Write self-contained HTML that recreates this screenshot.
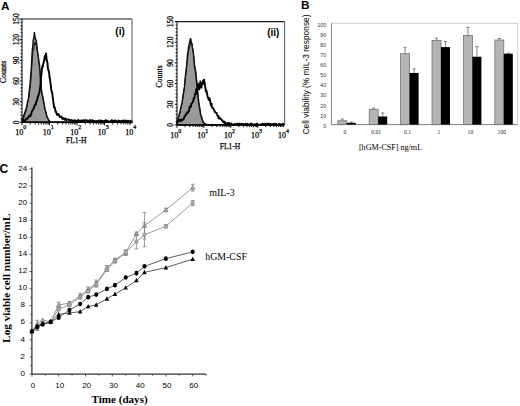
<!DOCTYPE html>
<html><head><meta charset="utf-8"><style>
html,body{margin:0;padding:0;background:#fff;}
body{width:520px;height:406px;overflow:hidden;}
svg{display:block;}
.sr{font-family:"Liberation Serif",serif;}
.hv{stroke:#000;stroke-width:0.25px;}
.ss{font-family:"Liberation Sans",sans-serif;}
.sb{font-family:"Liberation Sans",sans-serif;font-weight:bold;}
.sbf{font-family:"Liberation Serif",serif;font-weight:bold;}
</style></head><body>
<svg width="520" height="406" viewBox="0 0 520 406">
<polygon points="22,122.3 22.00,120.40 22.50,118.80 23.00,117.00 23.30,116.40 23.50,115.86 24.00,114.51 24.50,113.56 25.00,112.00 25.50,110.60 25.90,109.40 26.00,109.67 26.50,107.25 27.00,105.29 27.50,102.18 28.00,100.09 28.50,98.80 29.00,93.00 29.50,88.61 30.00,84.81 30.50,77.96 30.80,74.09 31.00,72.21 31.30,67.21 31.50,64.79 31.80,57.70 32.00,54.58 32.40,48.61 32.50,49.02 33.00,42.98 33.10,40.69 33.50,39.04 34.00,36.61 34.40,32.08 34.50,32.99 35.00,36.86 35.40,39.66 35.50,38.47 36.00,40.28 36.30,40.69 36.50,42.44 37.00,48.61 37.50,51.61 38.00,54.08 38.30,56.39 38.50,58.13 39.00,62.64 39.50,64.63 39.60,66.79 40.00,71.99 40.30,78.02 40.50,82.04 40.60,84.70 41.00,88.05 41.50,91.41 41.60,91.95 42.00,94.31 42.50,95.70 42.90,98.27 43.00,98.18 43.50,101.58 44.00,103.63 44.50,106.56 44.80,109.12 45.00,109.67 45.50,110.94 46.00,113.29 46.50,114.84 46.80,116.45 47.00,117.08 47.50,117.69 48.00,118.60 48.50,119.91 48.80,120.61 49.00,120.79 49.50,121.25 50.00,122.17 50.50,122.30 51.00,122.30 51.50,122.30 52.00,122.30 52.50,122.15 53.00,122.30 53.50,122.27 54.00,122.30 54.50,122.30 55.00,122.19 55.50,122.30 56.00,122.23 56.50,122.30 57.00,122.30 57.50,122.30 58.00,122.30 58.50,122.07 59.00,122.15 59.50,122.30 60.00,122.11 60.50,122.30 61.00,122.30 61.50,122.12 62.00,122.23 62.50,122.30 63.00,122.06 63.50,122.30 64.00,122.30 64.50,122.16 65.00,122.30 65.50,122.30 66.00,122.30 66.50,122.30 67.00,122.26 67.50,122.30 68.00,122.25 68.50,122.30 69.00,122.30 69.50,122.07 70.00,122.30 70.50,122.26 71.00,122.12 71.50,122.30 72.00,122.30 72.50,122.10 73.00,122.14 73.50,122.30 74.00,122.30 74.50,122.18 75.00,122.08 75.50,122.30 76.00,122.08 76.50,122.11 77.00,122.25 77.50,122.30 78.00,122.30 78.50,122.30 79.00,122.07 79.50,122.30 80.00,122.20 80.50,122.30 81.00,122.14 81.50,122.25 82.00,122.30 82.50,122.30 83.00,122.19 83.50,122.30 84.00,122.30 84.50,122.27 85.00,122.13 85.50,122.24 86.00,122.30 86.50,122.09 87.00,122.30 87.50,122.30 88.00,122.30 88.50,122.30 89.00,122.30 89.50,122.30 90.00,122.30 90.50,122.26 91.00,122.30 91.50,122.30 92.00,122.11 92.50,122.06 93.00,122.22 93.50,122.21 94.00,122.26 94.50,122.30 95.00,122.30 95.50,122.30 96.00,122.10 96.50,122.20 97.00,122.07 97.50,122.30 98.00,122.23 98.50,122.30 99.00,122.19 99.50,122.30 100.00,122.05 100.50,122.30 101.00,122.28 101.50,122.18 102.00,122.10 102.50,122.18 103.00,122.20 103.50,122.15 104.00,122.09 104.50,122.30 105.00,122.21 105.50,122.10 106.00,122.12 106.50,122.30 107.00,122.16 107.50,122.12 108.00,122.26 108.50,122.24 109.00,122.30 109.50,122.26 110.00,122.25 110.50,122.30 111.00,122.23 111.50,122.06 112.00,122.11 112.50,122.19 113.00,122.30 113.50,122.18 114.00,122.26 114.50,122.30 115.00,122.13 115.50,122.30 116.00,122.18 116.50,122.30 117.00,122.25 117.50,122.30 118.00,122.30 118.50,122.20 119.00,122.30 119.50,122.24 120.00,122.09 120.50,122.30 121.00,122.30 121.50,122.30 122.00,122.21 122.50,122.30 123.00,122.30 123.50,122.10 124.00,122.22 124.50,122.30 125.00,122.11 125.50,122.30 126.00,122.22 126.50,122.30 127.00,122.30 127.50,122.15 128.00,122.09 128.50,122.11 129.00,122.30 129.50,122.26 130.00,122.30 130.50,122.30 131.00,122.30 131.50,122.13 132.00,122.13 132,122.3" fill="#999" stroke="#111" stroke-width="1.4"/>
<polyline points="22.00,121.62 22.50,120.32 23.00,119.10 23.50,118.23 24.00,117.14 24.50,115.24 25.00,113.68 25.50,111.55 26.00,109.99 26.50,108.42 27.00,105.98 27.50,103.37 28.00,101.57 28.50,98.70 29.00,96.65 29.50,91.23 30.00,88.54 30.50,82.85 30.80,81.89 31.00,77.69 31.50,71.35 32.00,63.76 32.50,58.32 33.00,51.16 33.20,49.99 33.50,50.23 34.00,47.76 34.50,42.33 34.80,42.41 35.00,42.71 35.50,45.04 36.00,42.60 36.50,45.17 37.00,46.84 37.50,52.88 38.00,54.81 38.50,58.87 39.00,63.52 39.50,66.80 39.80,68.58 40.00,70.11 40.50,75.81 41.00,79.60 41.50,86.72 41.80,92.36 42.00,93.15 42.50,94.61 43.00,97.77 43.10,98.25 43.50,100.20 44.00,103.12 44.50,105.97 45.00,109.09 45.50,110.32 46.00,112.07 46.50,114.05 47.00,116.26 47.50,117.48 48.00,118.46 48.50,119.26 49.00,120.27 49.50,121.07 50.00,121.48 50.50,121.89 51.00,122.29 51.50,122.15 52.00,122.30 52.50,122.30 53.00,122.14 53.50,122.30 54.00,122.29 54.50,122.30 55.00,122.30 55.50,122.30 56.00,122.17 56.50,122.30 57.00,122.28 57.50,122.30 58.00,122.20 58.50,122.30 59.00,122.30 59.50,122.30 60.00,122.23 60.50,122.30 61.00,122.30 61.50,122.30 62.00,122.30 62.50,122.30 63.00,122.07 63.50,122.30 64.00,122.07 64.50,122.30 65.00,122.09 65.50,122.30 66.00,122.30 66.50,122.18 67.00,122.10 67.50,122.30 68.00,122.30 68.50,122.17 69.00,122.30 69.50,122.30 70.00,122.30 70.50,122.30 71.00,122.24 71.50,122.06 72.00,122.05 72.50,122.30 73.00,122.30 73.50,122.30 74.00,122.16 74.50,122.14 75.00,122.23 75.50,122.30 76.00,122.29 76.50,122.30 77.00,122.24 77.50,122.30 78.00,122.08 78.50,122.10 79.00,122.30 79.50,122.30 80.00,122.11 80.50,122.30 81.00,122.08 81.50,122.29 82.00,122.20 82.50,122.20 83.00,122.30 83.50,122.30 84.00,122.30 84.50,122.21 85.00,122.20 85.50,122.30 86.00,122.11 86.50,122.30 87.00,122.30 87.50,122.30 88.00,122.06 88.50,122.27 89.00,122.24 89.50,122.09 90.00,122.07 90.50,122.17 91.00,122.30 91.50,122.26 92.00,122.10 92.50,122.16 93.00,122.26 93.50,122.30 94.00,122.30 94.50,122.18 95.00,122.27 95.50,122.30 96.00,122.20 96.50,122.10 97.00,122.15 97.50,122.10 98.00,122.10 98.50,122.28 99.00,122.16 99.50,122.30 100.00,122.30 100.50,122.30 101.00,122.30 101.50,122.08 102.00,122.21 102.50,122.28 103.00,122.24 103.50,122.30 104.00,122.28 104.50,122.20 105.00,122.30 105.50,122.30 106.00,122.30 106.50,122.30 107.00,122.21 107.50,122.30 108.00,122.30 108.50,122.30 109.00,122.20 109.50,122.17 110.00,122.22 110.50,122.08 111.00,122.30 111.50,122.30 112.00,122.30 112.50,122.30 113.00,122.30 113.50,122.22 114.00,122.30 114.50,122.30 115.00,122.30 115.50,122.08 116.00,122.30 116.50,122.30 117.00,122.30 117.50,122.30 118.00,122.30 118.50,122.30 119.00,122.09 119.50,122.30 120.00,122.20 120.50,122.30 121.00,122.30 121.50,122.25 122.00,122.13 122.50,122.30 123.00,122.30 123.50,122.12 124.00,122.14 124.50,122.30 125.00,122.28 125.50,122.17 126.00,122.30 126.50,122.21 127.00,122.22 127.50,122.07 128.00,122.27 128.50,122.21 129.00,122.30 129.50,122.18 130.00,122.30 130.50,122.30 131.00,122.30 131.50,122.30 132.00,122.30" fill="none" stroke="#111" stroke-width="1.0"/>
<polyline points="22.00,121.98 22.60,120.93 23.20,120.53 23.80,119.86 23.90,120.90 24.40,120.53 25.00,120.33 25.60,119.84 26.20,118.56 26.80,119.33 27.00,118.45 27.40,118.67 28.00,117.94 28.60,117.08 29.20,115.63 29.80,115.52 30.40,116.27 30.50,115.58 31.00,114.98 31.60,112.07 32.20,111.07 32.80,109.92 33.40,108.69 34.00,107.78 34.60,105.53 35.20,104.44 35.80,104.77 36.40,101.04 37.00,100.87 37.60,97.46 38.20,95.96 38.80,94.31 39.40,92.37 39.50,91.67 40.00,88.23 40.60,84.61 40.90,79.81 41.20,74.92 41.60,73.40 41.80,70.22 42.40,65.63 42.90,66.79 43.00,64.77 43.60,62.86 44.20,60.32 44.80,56.01 45.40,59.49 45.90,54.40 46.00,53.40 46.60,58.94 47.20,62.09 47.50,62.94 47.80,67.36 48.40,70.58 48.80,70.65 49.00,71.86 49.60,77.84 49.80,77.54 50.20,81.16 50.70,84.50 50.80,86.23 51.40,90.73 52.00,91.92 52.60,96.22 52.70,96.72 53.20,100.79 53.80,104.84 54.00,107.41 54.40,106.87 55.00,108.08 55.60,111.79 55.90,111.95 56.20,111.72 56.80,114.56 57.40,114.89 58.00,113.91 58.60,114.46 59.20,115.52 59.80,117.06 60.40,117.01 61.00,116.59 61.60,117.07 62.00,117.58 62.20,118.81 62.80,117.77 63.40,118.88 64.00,118.46 64.60,119.73 65.20,118.42 65.80,119.29 66.00,119.15 66.40,120.10 67.00,119.45 67.60,119.59 68.20,119.64 68.80,120.11 69.40,119.54 70.00,120.28 70.60,120.42 71.20,120.71 71.80,119.90 72.40,120.93 73.00,120.81 73.60,121.14 74.20,120.25 74.80,120.46 75.00,120.51 75.40,121.34 76.00,120.69 76.60,120.86 77.20,121.27 77.80,121.43 78.40,119.80 79.00,121.25 79.60,120.96 80.20,121.02 80.80,120.49 81.40,121.35 82.00,120.71 82.60,120.89 83.20,120.13 83.80,121.49 84.40,120.96 85.00,120.70 85.60,119.94 86.20,120.69 86.80,120.76 87.40,120.45 88.00,121.07 88.60,121.50 89.20,120.75 89.80,120.09 90.40,120.38 91.00,121.16 91.60,120.48 92.20,120.22 92.80,121.19 93.40,120.66 94.00,121.04 94.60,121.23 95.20,121.17 95.80,121.31 96.40,121.08 97.00,121.59 97.60,121.02 98.20,121.53 98.80,120.45 99.40,120.71 100.00,121.68 100.60,120.45 101.20,121.39 101.80,120.93 102.40,120.82 103.00,121.19 103.60,121.26 104.20,121.04 104.80,121.52 105.40,120.36 106.00,121.58 106.60,120.44 107.20,121.42 107.80,121.29 108.40,121.16 109.00,121.74 109.60,121.59 110.20,121.23 110.80,121.10 111.40,120.42 112.00,120.24 112.60,121.76 113.20,120.98 113.80,121.64 114.40,120.57 115.00,121.34 115.60,120.44 116.20,121.00 116.80,121.68 117.40,121.88 118.00,121.50 118.60,120.52 119.20,121.67 119.80,121.15 120.40,121.33 121.00,121.38 121.60,120.66 122.20,121.60 122.80,120.81 123.40,120.90 124.00,120.48 124.60,121.15 125.20,120.52 125.80,121.29 126.40,121.08 127.00,121.02 127.60,120.68 128.20,120.60 128.80,121.83 129.40,121.81 130.00,121.19 130.60,120.76 131.20,121.20 131.80,121.58 132.00,120.54" fill="none" stroke="#000" stroke-width="1.9" stroke-linejoin="round"/>
<path d="M22,122.3 V19 H132" fill="none" stroke="#1a1a1a" stroke-width="1.1"/>
<line x1="132" y1="19" x2="132" y2="122.3" stroke="#555" stroke-width="1.0"/>
<line x1="22" y1="122.3" x2="132" y2="122.3" stroke="#000" stroke-width="1.5"/>
<line x1="19.8" y1="122.30" x2="22" y2="122.30" stroke="#111" stroke-width="1.1"/>
<line x1="20.6" y1="118.86" x2="22" y2="118.86" stroke="#111" stroke-width="1.1"/>
<line x1="20.6" y1="115.41" x2="22" y2="115.41" stroke="#111" stroke-width="1.1"/>
<line x1="20.6" y1="111.97" x2="22" y2="111.97" stroke="#111" stroke-width="1.1"/>
<line x1="20.6" y1="108.53" x2="22" y2="108.53" stroke="#111" stroke-width="1.1"/>
<line x1="20.6" y1="105.08" x2="22" y2="105.08" stroke="#111" stroke-width="1.1"/>
<line x1="19.8" y1="101.64" x2="22" y2="101.64" stroke="#111" stroke-width="1.1"/>
<line x1="20.6" y1="98.20" x2="22" y2="98.20" stroke="#111" stroke-width="1.1"/>
<line x1="20.6" y1="94.75" x2="22" y2="94.75" stroke="#111" stroke-width="1.1"/>
<line x1="20.6" y1="91.31" x2="22" y2="91.31" stroke="#111" stroke-width="1.1"/>
<line x1="20.6" y1="87.87" x2="22" y2="87.87" stroke="#111" stroke-width="1.1"/>
<line x1="20.6" y1="84.42" x2="22" y2="84.42" stroke="#111" stroke-width="1.1"/>
<line x1="19.8" y1="80.98" x2="22" y2="80.98" stroke="#111" stroke-width="1.1"/>
<line x1="20.6" y1="77.54" x2="22" y2="77.54" stroke="#111" stroke-width="1.1"/>
<line x1="20.6" y1="74.09" x2="22" y2="74.09" stroke="#111" stroke-width="1.1"/>
<line x1="20.6" y1="70.65" x2="22" y2="70.65" stroke="#111" stroke-width="1.1"/>
<line x1="20.6" y1="67.21" x2="22" y2="67.21" stroke="#111" stroke-width="1.1"/>
<line x1="20.6" y1="63.76" x2="22" y2="63.76" stroke="#111" stroke-width="1.1"/>
<line x1="19.8" y1="60.32" x2="22" y2="60.32" stroke="#111" stroke-width="1.1"/>
<line x1="20.6" y1="56.88" x2="22" y2="56.88" stroke="#111" stroke-width="1.1"/>
<line x1="20.6" y1="53.43" x2="22" y2="53.43" stroke="#111" stroke-width="1.1"/>
<line x1="20.6" y1="49.99" x2="22" y2="49.99" stroke="#111" stroke-width="1.1"/>
<line x1="20.6" y1="46.55" x2="22" y2="46.55" stroke="#111" stroke-width="1.1"/>
<line x1="20.6" y1="43.10" x2="22" y2="43.10" stroke="#111" stroke-width="1.1"/>
<line x1="19.8" y1="39.66" x2="22" y2="39.66" stroke="#111" stroke-width="1.1"/>
<line x1="20.6" y1="36.22" x2="22" y2="36.22" stroke="#111" stroke-width="1.1"/>
<line x1="20.6" y1="32.77" x2="22" y2="32.77" stroke="#111" stroke-width="1.1"/>
<line x1="20.6" y1="29.33" x2="22" y2="29.33" stroke="#111" stroke-width="1.1"/>
<line x1="20.6" y1="25.89" x2="22" y2="25.89" stroke="#111" stroke-width="1.1"/>
<line x1="20.6" y1="22.44" x2="22" y2="22.44" stroke="#111" stroke-width="1.1"/>
<line x1="19.8" y1="19.00" x2="22" y2="19.00" stroke="#111" stroke-width="1.1"/>
<text transform="translate(18.7,122.30) rotate(-90)" text-anchor="middle" class="sr hv" font-size="7.6">0</text>
<text transform="translate(18.7,101.64) rotate(-90)" text-anchor="middle" class="sr hv" font-size="7.6">30</text>
<text transform="translate(18.7,80.98) rotate(-90)" text-anchor="middle" class="sr hv" font-size="7.6">60</text>
<text transform="translate(18.7,60.32) rotate(-90)" text-anchor="middle" class="sr hv" font-size="7.6">90</text>
<text transform="translate(18.7,39.66) rotate(-90)" text-anchor="middle" class="sr hv" font-size="7.6">120</text>
<text transform="translate(18.7,19.00) rotate(-90)" text-anchor="middle" class="sr hv" font-size="7.6">150</text>
<line x1="22.00" y1="122.3" x2="22.00" y2="125.3" stroke="#111" stroke-width="1.0"/>
<line x1="30.28" y1="122.3" x2="30.28" y2="124.5" stroke="#111" stroke-width="1.0"/>
<line x1="35.12" y1="122.3" x2="35.12" y2="124.5" stroke="#111" stroke-width="1.0"/>
<line x1="38.56" y1="122.3" x2="38.56" y2="124.5" stroke="#111" stroke-width="1.0"/>
<line x1="41.22" y1="122.3" x2="41.22" y2="124.5" stroke="#111" stroke-width="1.0"/>
<line x1="43.40" y1="122.3" x2="43.40" y2="124.5" stroke="#111" stroke-width="1.0"/>
<line x1="45.24" y1="122.3" x2="45.24" y2="124.5" stroke="#111" stroke-width="1.0"/>
<line x1="46.83" y1="122.3" x2="46.83" y2="124.5" stroke="#111" stroke-width="1.0"/>
<line x1="48.24" y1="122.3" x2="48.24" y2="124.5" stroke="#111" stroke-width="1.0"/>
<line x1="49.50" y1="122.3" x2="49.50" y2="125.3" stroke="#111" stroke-width="1.0"/>
<line x1="57.78" y1="122.3" x2="57.78" y2="124.5" stroke="#111" stroke-width="1.0"/>
<line x1="62.62" y1="122.3" x2="62.62" y2="124.5" stroke="#111" stroke-width="1.0"/>
<line x1="66.06" y1="122.3" x2="66.06" y2="124.5" stroke="#111" stroke-width="1.0"/>
<line x1="68.72" y1="122.3" x2="68.72" y2="124.5" stroke="#111" stroke-width="1.0"/>
<line x1="70.90" y1="122.3" x2="70.90" y2="124.5" stroke="#111" stroke-width="1.0"/>
<line x1="72.74" y1="122.3" x2="72.74" y2="124.5" stroke="#111" stroke-width="1.0"/>
<line x1="74.33" y1="122.3" x2="74.33" y2="124.5" stroke="#111" stroke-width="1.0"/>
<line x1="75.74" y1="122.3" x2="75.74" y2="124.5" stroke="#111" stroke-width="1.0"/>
<line x1="77.00" y1="122.3" x2="77.00" y2="125.3" stroke="#111" stroke-width="1.0"/>
<line x1="85.28" y1="122.3" x2="85.28" y2="124.5" stroke="#111" stroke-width="1.0"/>
<line x1="90.12" y1="122.3" x2="90.12" y2="124.5" stroke="#111" stroke-width="1.0"/>
<line x1="93.56" y1="122.3" x2="93.56" y2="124.5" stroke="#111" stroke-width="1.0"/>
<line x1="96.22" y1="122.3" x2="96.22" y2="124.5" stroke="#111" stroke-width="1.0"/>
<line x1="98.40" y1="122.3" x2="98.40" y2="124.5" stroke="#111" stroke-width="1.0"/>
<line x1="100.24" y1="122.3" x2="100.24" y2="124.5" stroke="#111" stroke-width="1.0"/>
<line x1="101.83" y1="122.3" x2="101.83" y2="124.5" stroke="#111" stroke-width="1.0"/>
<line x1="103.24" y1="122.3" x2="103.24" y2="124.5" stroke="#111" stroke-width="1.0"/>
<line x1="104.50" y1="122.3" x2="104.50" y2="125.3" stroke="#111" stroke-width="1.0"/>
<line x1="112.78" y1="122.3" x2="112.78" y2="124.5" stroke="#111" stroke-width="1.0"/>
<line x1="117.62" y1="122.3" x2="117.62" y2="124.5" stroke="#111" stroke-width="1.0"/>
<line x1="121.06" y1="122.3" x2="121.06" y2="124.5" stroke="#111" stroke-width="1.0"/>
<line x1="123.72" y1="122.3" x2="123.72" y2="124.5" stroke="#111" stroke-width="1.0"/>
<line x1="125.90" y1="122.3" x2="125.90" y2="124.5" stroke="#111" stroke-width="1.0"/>
<line x1="127.74" y1="122.3" x2="127.74" y2="124.5" stroke="#111" stroke-width="1.0"/>
<line x1="129.33" y1="122.3" x2="129.33" y2="124.5" stroke="#111" stroke-width="1.0"/>
<line x1="130.74" y1="122.3" x2="130.74" y2="124.5" stroke="#111" stroke-width="1.0"/>
<text x="19.30" y="134.9" text-anchor="middle" class="sr hv" font-size="8">10</text>
<text x="23.30" y="129.3" text-anchor="start" class="sr hv" font-size="6">0</text>
<text x="46.80" y="134.9" text-anchor="middle" class="sr hv" font-size="8">10</text>
<text x="50.80" y="129.3" text-anchor="start" class="sr hv" font-size="6">1</text>
<text x="74.30" y="134.9" text-anchor="middle" class="sr hv" font-size="8">10</text>
<text x="78.30" y="129.3" text-anchor="start" class="sr hv" font-size="6">2</text>
<text x="101.80" y="134.9" text-anchor="middle" class="sr hv" font-size="8">10</text>
<text x="105.80" y="129.3" text-anchor="start" class="sr hv" font-size="6">3</text>
<text x="129.30" y="134.9" text-anchor="middle" class="sr hv" font-size="8">10</text>
<text x="133.30" y="129.3" text-anchor="start" class="sr hv" font-size="6">4</text>
<text x="76.20" y="142.9" text-anchor="middle" class="sr hv" font-size="8" textLength="20.5" lengthAdjust="spacingAndGlyphs">FL1-H</text>
<text transform="translate(6.4,71.95) rotate(-90)" text-anchor="middle" class="sr hv" font-size="8">Counts</text>
<text x="124.8" y="34.5" text-anchor="end" class="sb" font-size="10">(i)</text>
<polygon points="177,124.9 177.00,121.89 177.50,119.77 177.60,119.39 178.00,118.69 178.50,116.68 179.00,115.20 179.50,113.49 179.60,113.55 180.00,111.69 180.50,109.15 181.00,107.15 181.50,104.60 182.00,102.92 182.20,101.94 182.50,99.07 183.00,96.24 183.50,92.82 184.00,89.12 184.20,88.54 184.50,86.16 185.00,79.56 185.50,75.18 186.00,70.81 186.50,66.47 186.80,64.44 187.00,61.49 187.50,53.85 187.60,54.11 188.00,51.98 188.50,47.34 189.00,45.01 189.50,43.22 190.00,40.14 190.50,38.13 191.00,40.09 191.30,42.26 191.50,43.36 192.00,43.64 192.50,48.62 193.00,50.71 193.50,54.11 194.00,60.82 194.20,64.44 194.50,66.07 195.00,69.63 195.50,72.28 195.90,75.18 196.00,76.96 196.50,81.94 197.00,86.61 197.20,87.64 197.50,91.84 198.00,96.95 198.50,101.92 199.00,105.24 199.50,108.19 200.00,111.14 200.50,114.21 201.00,116.17 201.50,117.65 202.00,119.22 202.50,120.72 203.00,121.95 203.10,122.39 203.50,122.86 204.00,123.31 204.50,123.29 205.00,123.71 205.50,124.02 206.00,124.69 206.50,124.62 207.00,124.52 207.50,124.77 208.00,124.68 208.50,124.90 209.00,124.66 209.50,124.90 210.00,124.90 210.50,124.90 211.00,124.75 211.50,124.81 212.00,124.67 212.50,124.75 213.00,124.68 213.50,124.88 214.00,124.66 214.50,124.78 215.00,124.90 215.50,124.66 216.00,124.90 216.50,124.90 217.00,124.90 217.50,124.90 218.00,124.90 218.50,124.69 219.00,124.68 219.50,124.90 220.00,124.90 220.50,124.89 221.00,124.90 221.50,124.88 222.00,124.74 222.50,124.90 223.00,124.90 223.50,124.70 224.00,124.90 224.50,124.90 225.00,124.71 225.50,124.74 226.00,124.70 226.50,124.81 227.00,124.90 227.50,124.80 228.00,124.74 228.50,124.83 229.00,124.90 229.50,124.90 230.00,124.90 230.50,124.77 231.00,124.87 231.50,124.88 232.00,124.74 232.50,124.90 233.00,124.83 233.50,124.90 234.00,124.87 234.50,124.73 235.00,124.90 235.50,124.68 236.00,124.90 236.50,124.87 237.00,124.88 237.50,124.90 238.00,124.87 238.50,124.90 239.00,124.90 239.50,124.79 240.00,124.90 240.50,124.90 241.00,124.76 241.50,124.90 242.00,124.72 242.50,124.90 243.00,124.81 243.50,124.90 244.00,124.90 244.50,124.90 245.00,124.90 245.50,124.80 246.00,124.90 246.50,124.81 247.00,124.88 247.50,124.87 248.00,124.89 248.50,124.90 249.00,124.70 249.50,124.90 250.00,124.71 250.50,124.72 251.00,124.90 251.50,124.76 252.00,124.81 252.50,124.85 253.00,124.90 253.50,124.90 254.00,124.90 254.50,124.90 255.00,124.67 255.50,124.90 256.00,124.90 256.50,124.90 257.00,124.74 257.50,124.90 258.00,124.87 258.50,124.90 259.00,124.90 259.50,124.90 260.00,124.90 260.50,124.90 261.00,124.73 261.50,124.90 262.00,124.90 262.50,124.90 263.00,124.90 263.50,124.87 264.00,124.90 264.50,124.72 265.00,124.90 265.50,124.73 266.00,124.90 266.50,124.66 267.00,124.83 267.50,124.90 268.00,124.75 268.50,124.90 269.00,124.90 269.50,124.90 270.00,124.73 270.50,124.90 271.00,124.78 271.50,124.90 272.00,124.81 272.50,124.90 273.00,124.90 273.50,124.69 274.00,124.82 274.50,124.90 275.00,124.66 275.50,124.70 276.00,124.90 276.50,124.90 277.00,124.84 277.50,124.90 278.00,124.79 278.50,124.90 279.00,124.80 279.50,124.87 280.00,124.77 280.50,124.74 281.00,124.85 281.50,124.85 282.00,124.90 282.50,124.90 283.00,124.90 283.50,124.72 284.00,124.90 284.50,124.90 284.6,124.9" fill="#999" stroke="#111" stroke-width="1.4"/>
<polyline points="177.00,122.71 177.50,120.89 178.00,119.62 178.50,117.28 179.00,116.21 179.50,114.07 180.00,112.91 180.50,109.84 181.00,108.15 181.50,105.09 182.00,102.66 182.50,100.19 182.60,100.20 183.00,96.77 183.50,93.06 184.00,91.19 184.50,86.99 184.60,85.40 185.00,81.87 185.50,77.61 186.00,72.56 186.50,68.43 187.00,61.87 187.40,59.48 187.50,60.13 188.00,54.72 188.50,51.16 189.00,50.28 189.20,47.77 189.50,47.36 190.00,45.73 190.50,43.13 190.80,42.26 191.00,43.28 191.50,42.60 192.00,43.80 192.40,46.39 192.50,47.74 193.00,49.15 193.50,55.40 193.80,56.03 194.00,59.24 194.50,62.29 194.80,65.67 195.00,66.12 195.50,69.32 196.00,72.13 196.30,75.32 196.50,76.47 197.00,82.87 197.50,86.91 197.60,87.57 198.00,93.16 198.50,97.47 198.90,101.98 199.00,102.64 199.50,105.44 200.00,108.49 200.50,111.47 200.90,114.91 201.00,114.87 201.50,115.97 202.00,117.69 202.50,119.38 203.00,121.08 203.50,122.34 204.00,122.91 204.50,123.05 205.00,123.40 205.50,123.90 206.00,124.04 206.50,124.60 207.00,124.90 207.50,124.74 208.00,124.90 208.50,124.90 209.00,124.86 209.50,124.90 210.00,124.71 210.50,124.90 211.00,124.90 211.50,124.90 212.00,124.90 212.50,124.90 213.00,124.90 213.50,124.77 214.00,124.90 214.50,124.66 215.00,124.80 215.50,124.75 216.00,124.88 216.50,124.86 217.00,124.90 217.50,124.90 218.00,124.90 218.50,124.90 219.00,124.90 219.50,124.90 220.00,124.70 220.50,124.75 221.00,124.83 221.50,124.90 222.00,124.90 222.50,124.88 223.00,124.80 223.50,124.90 224.00,124.83 224.50,124.70 225.00,124.90 225.50,124.90 226.00,124.77 226.50,124.90 227.00,124.79 227.50,124.90 228.00,124.90 228.50,124.90 229.00,124.90 229.50,124.76 230.00,124.73 230.50,124.89 231.00,124.70 231.50,124.90 232.00,124.90 232.50,124.90 233.00,124.90 233.50,124.74 234.00,124.90 234.50,124.68 235.00,124.87 235.50,124.80 236.00,124.90 236.50,124.70 237.00,124.75 237.50,124.90 238.00,124.90 238.50,124.90 239.00,124.90 239.50,124.90 240.00,124.75 240.50,124.90 241.00,124.80 241.50,124.90 242.00,124.82 242.50,124.90 243.00,124.83 243.50,124.90 244.00,124.66 244.50,124.73 245.00,124.74 245.50,124.90 246.00,124.90 246.50,124.90 247.00,124.90 247.50,124.67 248.00,124.90 248.50,124.72 249.00,124.90 249.50,124.84 250.00,124.90 250.50,124.90 251.00,124.78 251.50,124.85 252.00,124.68 252.50,124.90 253.00,124.90 253.50,124.90 254.00,124.90 254.50,124.66 255.00,124.87 255.50,124.90 256.00,124.90 256.50,124.77 257.00,124.81 257.50,124.90 258.00,124.90 258.50,124.90 259.00,124.74 259.50,124.78 260.00,124.90 260.50,124.90 261.00,124.90 261.50,124.81 262.00,124.78 262.50,124.90 263.00,124.90 263.50,124.90 264.00,124.68 264.50,124.87 265.00,124.68 265.50,124.90 266.00,124.83 266.50,124.87 267.00,124.69 267.50,124.90 268.00,124.90 268.50,124.74 269.00,124.68 269.50,124.90 270.00,124.90 270.50,124.90 271.00,124.90 271.50,124.69 272.00,124.90 272.50,124.90 273.00,124.87 273.50,124.90 274.00,124.90 274.50,124.89 275.00,124.67 275.50,124.72 276.00,124.90 276.50,124.76 277.00,124.74 277.50,124.86 278.00,124.90 278.50,124.90 279.00,124.80 279.50,124.81 280.00,124.90 280.50,124.90 281.00,124.90 281.50,124.74 282.00,124.71 282.50,124.89 283.00,124.84 283.50,124.80 284.00,124.90 284.50,124.89" fill="none" stroke="#111" stroke-width="1.0"/>
<polyline points="177.00,123.72 177.60,120.31 178.20,120.29 178.80,121.33 179.40,119.89 180.00,120.18 180.60,121.19 181.20,119.20 181.80,120.44 182.40,120.17 182.80,119.82 183.00,119.19 183.60,119.32 184.20,117.18 184.80,115.93 185.40,115.82 186.00,114.20 186.60,113.75 187.20,112.29 187.80,113.25 188.10,112.30 188.40,111.27 189.00,111.04 189.60,106.76 190.20,106.47 190.80,107.03 191.40,103.81 192.00,103.07 192.60,102.42 193.20,100.98 193.80,98.04 194.40,98.30 195.00,94.31 195.60,92.92 195.90,94.15 196.20,89.20 196.80,91.85 197.40,89.24 197.90,83.81 198.00,87.63 198.60,87.84 199.20,88.51 199.30,89.45 199.80,85.34 200.30,81.51 200.40,81.77 201.00,83.63 201.50,87.66 201.60,82.74 202.20,84.37 202.80,84.27 203.10,80.48 203.40,81.48 204.00,79.63 204.40,82.20 204.60,82.53 205.20,86.99 205.70,89.69 205.80,91.35 206.40,90.53 207.00,93.31 207.60,96.57 208.20,98.02 208.80,99.97 209.00,97.90 209.40,98.07 210.00,100.20 210.60,103.93 211.20,105.68 211.60,103.66 211.80,106.21 212.40,108.13 213.00,107.92 213.60,108.98 214.20,110.45 214.80,111.44 215.40,112.58 216.00,112.73 216.40,113.31 216.60,113.08 217.20,114.90 217.80,116.31 218.40,115.98 218.50,118.23 219.00,117.19 219.60,118.50 220.20,118.19 220.80,118.96 221.40,119.73 222.00,120.11 222.60,121.32 223.20,122.17 223.80,121.29 224.40,122.63 225.00,123.34 225.20,122.31 225.60,122.77 226.20,123.84 226.80,123.18 227.40,123.90 228.00,122.90 228.60,123.99 229.20,123.07 229.80,123.73 230.40,124.70 231.00,124.33 231.10,123.50 231.60,123.90 232.20,124.74 232.80,124.41 233.40,124.56 234.00,124.83 234.60,124.07 235.20,123.91 235.80,124.64 236.40,124.13 237.00,123.66 237.60,123.61 238.20,124.71 238.80,124.86 239.40,123.58 240.00,124.48 240.60,124.73 241.20,123.76 241.80,124.58 242.40,123.90 243.00,123.94 243.60,124.55 244.20,124.30 244.80,124.57 245.40,123.79 246.00,124.59 246.60,124.61 247.20,123.72 247.80,124.61 248.40,124.37 249.00,124.26 249.60,124.90 250.20,124.61 250.80,123.92 251.40,123.57 252.00,124.54 252.60,124.34 253.20,124.90 253.80,124.34 254.40,124.53 255.00,124.32 255.60,124.64 256.20,124.62 256.80,123.72 257.40,123.93 258.00,124.56 258.60,124.90 259.20,124.90 259.80,124.90 260.40,124.90 261.00,124.25 261.60,124.34 262.20,124.90 262.80,123.82 263.40,124.13 264.00,124.08 264.60,123.80 265.20,124.68 265.80,123.80 266.40,123.70 267.00,123.80 267.60,124.90 268.20,123.90 268.80,123.70 269.40,124.90 270.00,123.89 270.60,123.97 271.20,124.90 271.80,124.14 272.40,124.07 273.00,124.09 273.60,124.90 274.20,123.77 274.80,124.90 275.40,124.90 276.00,123.82 276.60,124.52 277.20,124.90 277.80,124.66 278.40,124.32 279.00,124.86 279.60,123.90 280.20,124.26 280.80,124.69 281.40,124.73 282.00,124.90 282.60,123.81 283.20,124.83 283.80,123.90 284.40,124.49" fill="none" stroke="#000" stroke-width="1.9" stroke-linejoin="round"/>
<path d="M177,124.9 V21.6 H284.6" fill="none" stroke="#1a1a1a" stroke-width="1.1"/>
<line x1="284.6" y1="21.6" x2="284.6" y2="124.9" stroke="#555" stroke-width="1.0"/>
<line x1="177" y1="124.9" x2="284.6" y2="124.9" stroke="#000" stroke-width="1.5"/>
<line x1="174.8" y1="124.90" x2="177" y2="124.90" stroke="#111" stroke-width="1.1"/>
<line x1="175.6" y1="121.46" x2="177" y2="121.46" stroke="#111" stroke-width="1.1"/>
<line x1="175.6" y1="118.01" x2="177" y2="118.01" stroke="#111" stroke-width="1.1"/>
<line x1="175.6" y1="114.57" x2="177" y2="114.57" stroke="#111" stroke-width="1.1"/>
<line x1="175.6" y1="111.13" x2="177" y2="111.13" stroke="#111" stroke-width="1.1"/>
<line x1="175.6" y1="107.68" x2="177" y2="107.68" stroke="#111" stroke-width="1.1"/>
<line x1="174.8" y1="104.24" x2="177" y2="104.24" stroke="#111" stroke-width="1.1"/>
<line x1="175.6" y1="100.80" x2="177" y2="100.80" stroke="#111" stroke-width="1.1"/>
<line x1="175.6" y1="97.35" x2="177" y2="97.35" stroke="#111" stroke-width="1.1"/>
<line x1="175.6" y1="93.91" x2="177" y2="93.91" stroke="#111" stroke-width="1.1"/>
<line x1="175.6" y1="90.47" x2="177" y2="90.47" stroke="#111" stroke-width="1.1"/>
<line x1="175.6" y1="87.02" x2="177" y2="87.02" stroke="#111" stroke-width="1.1"/>
<line x1="174.8" y1="83.58" x2="177" y2="83.58" stroke="#111" stroke-width="1.1"/>
<line x1="175.6" y1="80.14" x2="177" y2="80.14" stroke="#111" stroke-width="1.1"/>
<line x1="175.6" y1="76.69" x2="177" y2="76.69" stroke="#111" stroke-width="1.1"/>
<line x1="175.6" y1="73.25" x2="177" y2="73.25" stroke="#111" stroke-width="1.1"/>
<line x1="175.6" y1="69.81" x2="177" y2="69.81" stroke="#111" stroke-width="1.1"/>
<line x1="175.6" y1="66.36" x2="177" y2="66.36" stroke="#111" stroke-width="1.1"/>
<line x1="174.8" y1="62.92" x2="177" y2="62.92" stroke="#111" stroke-width="1.1"/>
<line x1="175.6" y1="59.48" x2="177" y2="59.48" stroke="#111" stroke-width="1.1"/>
<line x1="175.6" y1="56.03" x2="177" y2="56.03" stroke="#111" stroke-width="1.1"/>
<line x1="175.6" y1="52.59" x2="177" y2="52.59" stroke="#111" stroke-width="1.1"/>
<line x1="175.6" y1="49.15" x2="177" y2="49.15" stroke="#111" stroke-width="1.1"/>
<line x1="175.6" y1="45.70" x2="177" y2="45.70" stroke="#111" stroke-width="1.1"/>
<line x1="174.8" y1="42.26" x2="177" y2="42.26" stroke="#111" stroke-width="1.1"/>
<line x1="175.6" y1="38.82" x2="177" y2="38.82" stroke="#111" stroke-width="1.1"/>
<line x1="175.6" y1="35.37" x2="177" y2="35.37" stroke="#111" stroke-width="1.1"/>
<line x1="175.6" y1="31.93" x2="177" y2="31.93" stroke="#111" stroke-width="1.1"/>
<line x1="175.6" y1="28.49" x2="177" y2="28.49" stroke="#111" stroke-width="1.1"/>
<line x1="175.6" y1="25.04" x2="177" y2="25.04" stroke="#111" stroke-width="1.1"/>
<line x1="174.8" y1="21.60" x2="177" y2="21.60" stroke="#111" stroke-width="1.1"/>
<text transform="translate(172.7,124.90) rotate(-90)" text-anchor="middle" class="sr hv" font-size="7.6">0</text>
<text transform="translate(172.7,104.24) rotate(-90)" text-anchor="middle" class="sr hv" font-size="7.6">30</text>
<text transform="translate(172.7,83.58) rotate(-90)" text-anchor="middle" class="sr hv" font-size="7.6">60</text>
<text transform="translate(172.7,62.92) rotate(-90)" text-anchor="middle" class="sr hv" font-size="7.6">90</text>
<text transform="translate(172.7,42.26) rotate(-90)" text-anchor="middle" class="sr hv" font-size="7.6">120</text>
<text transform="translate(172.7,21.60) rotate(-90)" text-anchor="middle" class="sr hv" font-size="7.6">150</text>
<line x1="177.00" y1="124.9" x2="177.00" y2="127.9" stroke="#111" stroke-width="1.0"/>
<line x1="185.10" y1="124.9" x2="185.10" y2="127.10000000000001" stroke="#111" stroke-width="1.0"/>
<line x1="189.83" y1="124.9" x2="189.83" y2="127.10000000000001" stroke="#111" stroke-width="1.0"/>
<line x1="193.20" y1="124.9" x2="193.20" y2="127.10000000000001" stroke="#111" stroke-width="1.0"/>
<line x1="195.80" y1="124.9" x2="195.80" y2="127.10000000000001" stroke="#111" stroke-width="1.0"/>
<line x1="197.93" y1="124.9" x2="197.93" y2="127.10000000000001" stroke="#111" stroke-width="1.0"/>
<line x1="199.73" y1="124.9" x2="199.73" y2="127.10000000000001" stroke="#111" stroke-width="1.0"/>
<line x1="201.29" y1="124.9" x2="201.29" y2="127.10000000000001" stroke="#111" stroke-width="1.0"/>
<line x1="202.67" y1="124.9" x2="202.67" y2="127.10000000000001" stroke="#111" stroke-width="1.0"/>
<line x1="203.90" y1="124.9" x2="203.90" y2="127.9" stroke="#111" stroke-width="1.0"/>
<line x1="212.00" y1="124.9" x2="212.00" y2="127.10000000000001" stroke="#111" stroke-width="1.0"/>
<line x1="216.73" y1="124.9" x2="216.73" y2="127.10000000000001" stroke="#111" stroke-width="1.0"/>
<line x1="220.10" y1="124.9" x2="220.10" y2="127.10000000000001" stroke="#111" stroke-width="1.0"/>
<line x1="222.70" y1="124.9" x2="222.70" y2="127.10000000000001" stroke="#111" stroke-width="1.0"/>
<line x1="224.83" y1="124.9" x2="224.83" y2="127.10000000000001" stroke="#111" stroke-width="1.0"/>
<line x1="226.63" y1="124.9" x2="226.63" y2="127.10000000000001" stroke="#111" stroke-width="1.0"/>
<line x1="228.19" y1="124.9" x2="228.19" y2="127.10000000000001" stroke="#111" stroke-width="1.0"/>
<line x1="229.57" y1="124.9" x2="229.57" y2="127.10000000000001" stroke="#111" stroke-width="1.0"/>
<line x1="230.80" y1="124.9" x2="230.80" y2="127.9" stroke="#111" stroke-width="1.0"/>
<line x1="238.90" y1="124.9" x2="238.90" y2="127.10000000000001" stroke="#111" stroke-width="1.0"/>
<line x1="243.63" y1="124.9" x2="243.63" y2="127.10000000000001" stroke="#111" stroke-width="1.0"/>
<line x1="247.00" y1="124.9" x2="247.00" y2="127.10000000000001" stroke="#111" stroke-width="1.0"/>
<line x1="249.60" y1="124.9" x2="249.60" y2="127.10000000000001" stroke="#111" stroke-width="1.0"/>
<line x1="251.73" y1="124.9" x2="251.73" y2="127.10000000000001" stroke="#111" stroke-width="1.0"/>
<line x1="253.53" y1="124.9" x2="253.53" y2="127.10000000000001" stroke="#111" stroke-width="1.0"/>
<line x1="255.09" y1="124.9" x2="255.09" y2="127.10000000000001" stroke="#111" stroke-width="1.0"/>
<line x1="256.47" y1="124.9" x2="256.47" y2="127.10000000000001" stroke="#111" stroke-width="1.0"/>
<line x1="257.70" y1="124.9" x2="257.70" y2="127.9" stroke="#111" stroke-width="1.0"/>
<line x1="265.80" y1="124.9" x2="265.80" y2="127.10000000000001" stroke="#111" stroke-width="1.0"/>
<line x1="270.53" y1="124.9" x2="270.53" y2="127.10000000000001" stroke="#111" stroke-width="1.0"/>
<line x1="273.90" y1="124.9" x2="273.90" y2="127.10000000000001" stroke="#111" stroke-width="1.0"/>
<line x1="276.50" y1="124.9" x2="276.50" y2="127.10000000000001" stroke="#111" stroke-width="1.0"/>
<line x1="278.63" y1="124.9" x2="278.63" y2="127.10000000000001" stroke="#111" stroke-width="1.0"/>
<line x1="280.43" y1="124.9" x2="280.43" y2="127.10000000000001" stroke="#111" stroke-width="1.0"/>
<line x1="281.99" y1="124.9" x2="281.99" y2="127.10000000000001" stroke="#111" stroke-width="1.0"/>
<line x1="283.37" y1="124.9" x2="283.37" y2="127.10000000000001" stroke="#111" stroke-width="1.0"/>
<text x="174.30" y="138.2" text-anchor="middle" class="sr hv" font-size="8">10</text>
<text x="178.30" y="132.6" text-anchor="start" class="sr hv" font-size="6">0</text>
<text x="201.20" y="138.2" text-anchor="middle" class="sr hv" font-size="8">10</text>
<text x="205.20" y="132.6" text-anchor="start" class="sr hv" font-size="6">1</text>
<text x="228.10" y="138.2" text-anchor="middle" class="sr hv" font-size="8">10</text>
<text x="232.10" y="132.6" text-anchor="start" class="sr hv" font-size="6">2</text>
<text x="255.00" y="138.2" text-anchor="middle" class="sr hv" font-size="8">10</text>
<text x="259.00" y="132.6" text-anchor="start" class="sr hv" font-size="6">3</text>
<text x="281.90" y="138.2" text-anchor="middle" class="sr hv" font-size="8">10</text>
<text x="285.90" y="132.6" text-anchor="start" class="sr hv" font-size="6">4</text>
<text x="230.00" y="149.2" text-anchor="middle" class="sr hv" font-size="8" textLength="20.5" lengthAdjust="spacingAndGlyphs">FL1-H</text>
<text transform="translate(162.4,76.45) rotate(-90)" text-anchor="middle" class="sr hv" font-size="8">Counts</text>
<text x="279.4" y="36.2" text-anchor="end" class="sb" font-size="10">(ii)</text>
<rect x="331.5" y="23.3" width="186.20000000000005" height="101.3" fill="none" stroke="#cfcfcf" stroke-width="1"/>
<line x1="331.5" y1="23.3" x2="331.5" y2="124.6" stroke="#888" stroke-width="1"/>
<line x1="331.5" y1="124.6" x2="517.7" y2="124.6" stroke="#888" stroke-width="1"/>
<text x="326.1" y="127.70" text-anchor="end" class="ss" font-size="5.2" fill="#333">0</text>
<text x="326.1" y="117.62" text-anchor="end" class="ss" font-size="5.2" fill="#333">10</text>
<text x="326.1" y="107.54" text-anchor="end" class="ss" font-size="5.2" fill="#333">20</text>
<text x="326.1" y="97.46" text-anchor="end" class="ss" font-size="5.2" fill="#333">30</text>
<text x="326.1" y="87.38" text-anchor="end" class="ss" font-size="5.2" fill="#333">40</text>
<text x="326.1" y="77.30" text-anchor="end" class="ss" font-size="5.2" fill="#333">50</text>
<text x="326.1" y="67.22" text-anchor="end" class="ss" font-size="5.2" fill="#333">60</text>
<text x="326.1" y="57.14" text-anchor="end" class="ss" font-size="5.2" fill="#333">70</text>
<text x="326.1" y="47.06" text-anchor="end" class="ss" font-size="5.2" fill="#333">80</text>
<text x="326.1" y="36.98" text-anchor="end" class="ss" font-size="5.2" fill="#333">90</text>
<text x="326.1" y="26.90" text-anchor="end" class="ss" font-size="5.2" fill="#333">100</text>
<line x1="342.30" y1="120.75" x2="342.30" y2="119.03" stroke="#666" stroke-width="0.8"/>
<line x1="340.70" y1="119.03" x2="343.90" y2="119.03" stroke="#666" stroke-width="0.8"/>
<line x1="351.30" y1="122.78" x2="351.30" y2="122.17" stroke="#666" stroke-width="0.8"/>
<line x1="349.70" y1="122.17" x2="352.90" y2="122.17" stroke="#666" stroke-width="0.8"/>
<rect x="337.80" y="120.75" width="9.0" height="3.85" fill="#b4b4b4" stroke="#666" stroke-width="0.7"/>
<rect x="346.80" y="122.78" width="9.0" height="1.82" fill="#000"/>
<text x="344.80" y="133.8" text-anchor="middle" class="sr" font-size="5.6" fill="#222">0</text>
<line x1="373.70" y1="109.20" x2="373.70" y2="108.09" stroke="#666" stroke-width="0.8"/>
<line x1="372.10" y1="108.09" x2="375.30" y2="108.09" stroke="#666" stroke-width="0.8"/>
<line x1="382.70" y1="116.50" x2="382.70" y2="112.95" stroke="#666" stroke-width="0.8"/>
<line x1="381.10" y1="112.95" x2="384.30" y2="112.95" stroke="#666" stroke-width="0.8"/>
<rect x="369.20" y="109.20" width="9.0" height="15.40" fill="#b4b4b4" stroke="#666" stroke-width="0.7"/>
<rect x="378.20" y="116.50" width="9.0" height="8.10" fill="#000"/>
<text x="376.20" y="133.8" text-anchor="middle" class="sr" font-size="5.6" fill="#222">0.01</text>
<line x1="405.10" y1="53.69" x2="405.10" y2="47.61" stroke="#666" stroke-width="0.8"/>
<line x1="403.50" y1="47.61" x2="406.70" y2="47.61" stroke="#666" stroke-width="0.8"/>
<line x1="414.10" y1="72.94" x2="414.10" y2="68.88" stroke="#666" stroke-width="0.8"/>
<line x1="412.50" y1="68.88" x2="415.70" y2="68.88" stroke="#666" stroke-width="0.8"/>
<rect x="400.60" y="53.69" width="9.0" height="70.91" fill="#b4b4b4" stroke="#666" stroke-width="0.7"/>
<rect x="409.60" y="72.94" width="9.0" height="51.66" fill="#000"/>
<text x="407.60" y="133.8" text-anchor="middle" class="sr" font-size="5.6" fill="#222">0.1</text>
<line x1="436.50" y1="40.52" x2="436.50" y2="38.19" stroke="#666" stroke-width="0.8"/>
<line x1="434.90" y1="38.19" x2="438.10" y2="38.19" stroke="#666" stroke-width="0.8"/>
<line x1="445.50" y1="47.11" x2="445.50" y2="41.53" stroke="#666" stroke-width="0.8"/>
<line x1="443.90" y1="41.53" x2="447.10" y2="41.53" stroke="#666" stroke-width="0.8"/>
<rect x="432.00" y="40.52" width="9.0" height="84.08" fill="#b4b4b4" stroke="#666" stroke-width="0.7"/>
<rect x="441.00" y="47.11" width="9.0" height="77.49" fill="#000"/>
<text x="439.00" y="133.8" text-anchor="middle" class="sr" font-size="5.6" fill="#222">1</text>
<line x1="467.90" y1="35.46" x2="467.90" y2="27.35" stroke="#666" stroke-width="0.8"/>
<line x1="466.30" y1="27.35" x2="469.50" y2="27.35" stroke="#666" stroke-width="0.8"/>
<line x1="476.90" y1="56.73" x2="476.90" y2="46.60" stroke="#666" stroke-width="0.8"/>
<line x1="475.30" y1="46.60" x2="478.50" y2="46.60" stroke="#666" stroke-width="0.8"/>
<rect x="463.40" y="35.46" width="9.0" height="89.14" fill="#b4b4b4" stroke="#666" stroke-width="0.7"/>
<rect x="472.40" y="56.73" width="9.0" height="67.87" fill="#000"/>
<text x="470.40" y="133.8" text-anchor="middle" class="sr" font-size="5.6" fill="#222">10</text>
<line x1="499.30" y1="40.01" x2="499.30" y2="38.50" stroke="#666" stroke-width="0.8"/>
<line x1="497.70" y1="38.50" x2="500.90" y2="38.50" stroke="#666" stroke-width="0.8"/>
<line x1="508.30" y1="53.69" x2="508.30" y2="53.18" stroke="#666" stroke-width="0.8"/>
<line x1="506.70" y1="53.18" x2="509.90" y2="53.18" stroke="#666" stroke-width="0.8"/>
<rect x="494.80" y="40.01" width="9.0" height="84.59" fill="#b4b4b4" stroke="#666" stroke-width="0.7"/>
<rect x="503.80" y="53.69" width="9.0" height="70.91" fill="#000"/>
<text x="501.80" y="133.8" text-anchor="middle" class="sr" font-size="5.6" fill="#222">100</text>
<text x="390.5" y="149.7" text-anchor="middle" class="sr" font-size="8.1">[hGM-CSF] ng/mL</text>
<text transform="translate(309,74.5) rotate(-90)" text-anchor="middle" class="ss" font-size="8.4">Cell viability (% mIL-3 response)</text>
<line x1="31.9" y1="167.5" x2="31.9" y2="374.1" stroke="#333" stroke-width="1.3"/>
<line x1="31.9" y1="374.1" x2="206" y2="374.1" stroke="#333" stroke-width="1.3"/>
<line x1="29.5" y1="374.10" x2="31.9" y2="374.10" stroke="#333" stroke-width="0.8"/>
<text x="22.7" y="375.70" text-anchor="middle" class="ss" font-size="8">0</text>
<line x1="30.299999999999997" y1="365.55" x2="31.9" y2="365.55" stroke="#333" stroke-width="0.8"/>
<line x1="29.5" y1="357.00" x2="31.9" y2="357.00" stroke="#333" stroke-width="0.8"/>
<text x="22.7" y="358.60" text-anchor="middle" class="ss" font-size="8">2</text>
<line x1="30.299999999999997" y1="348.45" x2="31.9" y2="348.45" stroke="#333" stroke-width="0.8"/>
<line x1="29.5" y1="339.90" x2="31.9" y2="339.90" stroke="#333" stroke-width="0.8"/>
<text x="22.7" y="341.50" text-anchor="middle" class="ss" font-size="8">4</text>
<line x1="30.299999999999997" y1="331.35" x2="31.9" y2="331.35" stroke="#333" stroke-width="0.8"/>
<line x1="29.5" y1="322.80" x2="31.9" y2="322.80" stroke="#333" stroke-width="0.8"/>
<text x="22.7" y="324.40" text-anchor="middle" class="ss" font-size="8">6</text>
<line x1="30.299999999999997" y1="314.25" x2="31.9" y2="314.25" stroke="#333" stroke-width="0.8"/>
<line x1="29.5" y1="305.70" x2="31.9" y2="305.70" stroke="#333" stroke-width="0.8"/>
<text x="22.7" y="307.30" text-anchor="middle" class="ss" font-size="8">8</text>
<line x1="30.299999999999997" y1="297.15" x2="31.9" y2="297.15" stroke="#333" stroke-width="0.8"/>
<line x1="29.5" y1="288.60" x2="31.9" y2="288.60" stroke="#333" stroke-width="0.8"/>
<text x="22.7" y="290.20" text-anchor="middle" class="ss" font-size="8">10</text>
<line x1="30.299999999999997" y1="280.05" x2="31.9" y2="280.05" stroke="#333" stroke-width="0.8"/>
<line x1="29.5" y1="271.50" x2="31.9" y2="271.50" stroke="#333" stroke-width="0.8"/>
<text x="22.7" y="273.10" text-anchor="middle" class="ss" font-size="8">12</text>
<line x1="30.299999999999997" y1="262.95" x2="31.9" y2="262.95" stroke="#333" stroke-width="0.8"/>
<line x1="29.5" y1="254.40" x2="31.9" y2="254.40" stroke="#333" stroke-width="0.8"/>
<text x="22.7" y="256.00" text-anchor="middle" class="ss" font-size="8">14</text>
<line x1="30.299999999999997" y1="245.85" x2="31.9" y2="245.85" stroke="#333" stroke-width="0.8"/>
<line x1="29.5" y1="237.30" x2="31.9" y2="237.30" stroke="#333" stroke-width="0.8"/>
<text x="22.7" y="238.90" text-anchor="middle" class="ss" font-size="8">16</text>
<line x1="30.299999999999997" y1="228.75" x2="31.9" y2="228.75" stroke="#333" stroke-width="0.8"/>
<line x1="29.5" y1="220.20" x2="31.9" y2="220.20" stroke="#333" stroke-width="0.8"/>
<text x="22.7" y="221.80" text-anchor="middle" class="ss" font-size="8">18</text>
<line x1="30.299999999999997" y1="211.65" x2="31.9" y2="211.65" stroke="#333" stroke-width="0.8"/>
<line x1="29.5" y1="203.10" x2="31.9" y2="203.10" stroke="#333" stroke-width="0.8"/>
<text x="22.7" y="204.70" text-anchor="middle" class="ss" font-size="8">20</text>
<line x1="30.299999999999997" y1="194.55" x2="31.9" y2="194.55" stroke="#333" stroke-width="0.8"/>
<line x1="29.5" y1="186.00" x2="31.9" y2="186.00" stroke="#333" stroke-width="0.8"/>
<text x="22.7" y="187.60" text-anchor="middle" class="ss" font-size="8">22</text>
<line x1="30.299999999999997" y1="177.45" x2="31.9" y2="177.45" stroke="#333" stroke-width="0.8"/>
<line x1="29.5" y1="168.90" x2="31.9" y2="168.90" stroke="#333" stroke-width="0.8"/>
<text x="22.7" y="170.50" text-anchor="middle" class="ss" font-size="8">24</text>
<line x1="31.90" y1="374.1" x2="31.90" y2="376.5" stroke="#333" stroke-width="0.8"/>
<text x="33.00" y="388.2" text-anchor="middle" class="ss" font-size="8">0</text>
<line x1="45.30" y1="374.1" x2="45.30" y2="375.70000000000005" stroke="#333" stroke-width="0.8"/>
<line x1="58.70" y1="374.1" x2="58.70" y2="376.5" stroke="#333" stroke-width="0.8"/>
<text x="59.80" y="388.2" text-anchor="middle" class="ss" font-size="8">10</text>
<line x1="72.10" y1="374.1" x2="72.10" y2="375.70000000000005" stroke="#333" stroke-width="0.8"/>
<line x1="85.50" y1="374.1" x2="85.50" y2="376.5" stroke="#333" stroke-width="0.8"/>
<text x="86.60" y="388.2" text-anchor="middle" class="ss" font-size="8">20</text>
<line x1="98.90" y1="374.1" x2="98.90" y2="375.70000000000005" stroke="#333" stroke-width="0.8"/>
<line x1="112.30" y1="374.1" x2="112.30" y2="376.5" stroke="#333" stroke-width="0.8"/>
<text x="113.40" y="388.2" text-anchor="middle" class="ss" font-size="8">30</text>
<line x1="125.70" y1="374.1" x2="125.70" y2="375.70000000000005" stroke="#333" stroke-width="0.8"/>
<line x1="139.10" y1="374.1" x2="139.10" y2="376.5" stroke="#333" stroke-width="0.8"/>
<text x="140.20" y="388.2" text-anchor="middle" class="ss" font-size="8">40</text>
<line x1="152.50" y1="374.1" x2="152.50" y2="375.70000000000005" stroke="#333" stroke-width="0.8"/>
<line x1="165.90" y1="374.1" x2="165.90" y2="376.5" stroke="#333" stroke-width="0.8"/>
<text x="167.00" y="388.2" text-anchor="middle" class="ss" font-size="8">50</text>
<line x1="179.30" y1="374.1" x2="179.30" y2="375.70000000000005" stroke="#333" stroke-width="0.8"/>
<line x1="192.70" y1="374.1" x2="192.70" y2="376.5" stroke="#333" stroke-width="0.8"/>
<text x="193.80" y="388.2" text-anchor="middle" class="ss" font-size="8">60</text>
<line x1="206.10" y1="374.1" x2="206.10" y2="375.70000000000005" stroke="#333" stroke-width="0.8"/>
<text x="119.6" y="402.6" text-anchor="middle" class="sbf" font-size="11.1">Time (days)</text>
<text transform="translate(10.2,278.2) rotate(-90)" text-anchor="middle" class="sbf" font-size="11.15">Log viable cell number/mL</text>
<text x="209.2" y="196.1" class="sr" font-size="10">mIL-3</text>
<text x="205.2" y="260.2" class="sr" font-size="9.9">hGM-CSF</text>
<polyline points="31.90,331.35 37.26,323.66 42.62,320.24 50.66,321.52 58.70,304.85 69.42,303.13 80.14,295.87 88.18,289.46 96.22,283.47 106.94,268.08 114.98,259.96 125.70,252.69 136.42,233.88 144.46,225.76 165.90,209.94 192.70,187.71" fill="none" stroke="#808080" stroke-width="0.8"/>
<path d="M37.26,320.24 V327.08 M35.26,320.24 H39.26 M35.26,327.08 H39.26" stroke="#808080" stroke-width="0.8" fill="none"/>
<path d="M58.70,302.28 V307.41 M56.70,302.28 H60.70 M56.70,307.41 H60.70" stroke="#808080" stroke-width="0.8" fill="none"/>
<path d="M69.42,301.43 V304.84 M67.42,301.43 H71.42 M67.42,304.84 H71.42" stroke="#808080" stroke-width="0.8" fill="none"/>
<path d="M80.14,293.30 V298.43 M78.14,293.30 H82.14 M78.14,298.43 H82.14" stroke="#808080" stroke-width="0.8" fill="none"/>
<path d="M88.18,286.89 V292.02 M86.18,286.89 H90.18 M86.18,292.02 H90.18" stroke="#808080" stroke-width="0.8" fill="none"/>
<path d="M96.22,280.05 V286.89 M94.22,280.05 H98.22 M94.22,286.89 H98.22" stroke="#808080" stroke-width="0.8" fill="none"/>
<path d="M106.94,265.52 V270.65 M104.94,265.52 H108.94 M104.94,270.65 H108.94" stroke="#808080" stroke-width="0.8" fill="none"/>
<path d="M114.98,258.25 V261.67 M112.98,258.25 H116.98 M112.98,261.67 H116.98" stroke="#808080" stroke-width="0.8" fill="none"/>
<path d="M125.70,250.12 V255.25 M123.70,250.12 H127.70 M123.70,255.25 H127.70" stroke="#808080" stroke-width="0.8" fill="none"/>
<path d="M136.42,232.17 V235.59 M134.42,232.17 H138.42 M134.42,235.59 H138.42" stroke="#808080" stroke-width="0.8" fill="none"/>
<path d="M144.46,212.50 V239.01 M142.46,212.50 H146.46 M142.46,239.01 H146.46" stroke="#808080" stroke-width="0.8" fill="none"/>
<path d="M165.90,208.23 V211.65 M163.90,208.23 H167.90 M163.90,211.65 H167.90" stroke="#808080" stroke-width="0.8" fill="none"/>
<path d="M192.70,184.29 V191.13 M190.70,184.29 H194.70 M190.70,191.13 H194.70" stroke="#808080" stroke-width="0.8" fill="none"/>
<path d="M31.90,329.15 L34.00,332.95 L29.80,332.95 Z" fill="#b0b0b0" stroke="#808080" stroke-width="0.8"/>
<path d="M37.26,321.46 L39.36,325.26 L35.16,325.26 Z" fill="#b0b0b0" stroke="#808080" stroke-width="0.8"/>
<path d="M42.62,318.04 L44.72,321.84 L40.52,321.84 Z" fill="#b0b0b0" stroke="#808080" stroke-width="0.8"/>
<path d="M50.66,319.32 L52.76,323.12 L48.56,323.12 Z" fill="#b0b0b0" stroke="#808080" stroke-width="0.8"/>
<path d="M58.70,302.65 L60.80,306.45 L56.60,306.45 Z" fill="#b0b0b0" stroke="#808080" stroke-width="0.8"/>
<path d="M69.42,300.94 L71.52,304.74 L67.32,304.74 Z" fill="#b0b0b0" stroke="#808080" stroke-width="0.8"/>
<path d="M80.14,293.67 L82.24,297.47 L78.04,297.47 Z" fill="#b0b0b0" stroke="#808080" stroke-width="0.8"/>
<path d="M88.18,287.26 L90.28,291.06 L86.08,291.06 Z" fill="#b0b0b0" stroke="#808080" stroke-width="0.8"/>
<path d="M96.22,281.27 L98.32,285.07 L94.12,285.07 Z" fill="#b0b0b0" stroke="#808080" stroke-width="0.8"/>
<path d="M106.94,265.88 L109.04,269.68 L104.84,269.68 Z" fill="#b0b0b0" stroke="#808080" stroke-width="0.8"/>
<path d="M114.98,257.76 L117.08,261.56 L112.88,261.56 Z" fill="#b0b0b0" stroke="#808080" stroke-width="0.8"/>
<path d="M125.70,250.49 L127.80,254.29 L123.60,254.29 Z" fill="#b0b0b0" stroke="#808080" stroke-width="0.8"/>
<path d="M136.42,231.68 L138.52,235.48 L134.32,235.48 Z" fill="#b0b0b0" stroke="#808080" stroke-width="0.8"/>
<path d="M144.46,223.56 L146.56,227.36 L142.36,227.36 Z" fill="#b0b0b0" stroke="#808080" stroke-width="0.8"/>
<path d="M165.90,207.74 L168.00,211.54 L163.80,211.54 Z" fill="#b0b0b0" stroke="#808080" stroke-width="0.8"/>
<path d="M192.70,185.51 L194.80,189.31 L190.60,189.31 Z" fill="#b0b0b0" stroke="#808080" stroke-width="0.8"/>
<polyline points="31.90,331.35 37.26,328.79 42.62,323.66 50.66,321.95 58.70,309.12 69.42,304.85 80.14,297.15 88.18,291.17 96.22,284.33 106.94,269.79 114.98,261.24 125.70,252.69 136.42,241.58 144.46,234.74 165.90,226.19 192.70,203.10" fill="none" stroke="#808080" stroke-width="0.8"/>
<path d="M37.26,327.08 V330.50 M35.26,327.08 H39.26 M35.26,330.50 H39.26" stroke="#808080" stroke-width="0.8" fill="none"/>
<path d="M58.70,307.41 V310.83 M56.70,307.41 H60.70 M56.70,310.83 H60.70" stroke="#808080" stroke-width="0.8" fill="none"/>
<path d="M69.42,303.14 V306.56 M67.42,303.14 H71.42 M67.42,306.56 H71.42" stroke="#808080" stroke-width="0.8" fill="none"/>
<path d="M80.14,295.44 V298.86 M78.14,295.44 H82.14 M78.14,298.86 H82.14" stroke="#808080" stroke-width="0.8" fill="none"/>
<path d="M88.18,289.46 V292.88 M86.18,289.46 H90.18 M86.18,292.88 H90.18" stroke="#808080" stroke-width="0.8" fill="none"/>
<path d="M96.22,281.76 V286.89 M94.22,281.76 H98.22 M94.22,286.89 H98.22" stroke="#808080" stroke-width="0.8" fill="none"/>
<path d="M106.94,268.08 V271.50 M104.94,268.08 H108.94 M104.94,271.50 H108.94" stroke="#808080" stroke-width="0.8" fill="none"/>
<path d="M114.98,259.53 V262.95 M112.98,259.53 H116.98 M112.98,262.95 H116.98" stroke="#808080" stroke-width="0.8" fill="none"/>
<path d="M125.70,250.12 V255.25 M123.70,250.12 H127.70 M123.70,255.25 H127.70" stroke="#808080" stroke-width="0.8" fill="none"/>
<path d="M136.42,234.31 V248.84 M134.42,234.31 H138.42 M134.42,248.84 H138.42" stroke="#808080" stroke-width="0.8" fill="none"/>
<path d="M144.46,222.77 V246.71 M142.46,222.77 H146.46 M142.46,246.71 H146.46" stroke="#808080" stroke-width="0.8" fill="none"/>
<path d="M165.90,224.47 V227.90 M163.90,224.47 H167.90 M163.90,227.90 H167.90" stroke="#808080" stroke-width="0.8" fill="none"/>
<path d="M192.70,200.54 V205.67 M190.70,200.54 H194.70 M190.70,205.67 H194.70" stroke="#808080" stroke-width="0.8" fill="none"/>
<ellipse cx="31.90" cy="331.35" rx="1.7" ry="2" fill="#aaa" stroke="#808080" stroke-width="0.6"/>
<ellipse cx="37.26" cy="328.79" rx="1.7" ry="2" fill="#aaa" stroke="#808080" stroke-width="0.6"/>
<ellipse cx="42.62" cy="323.66" rx="1.7" ry="2" fill="#aaa" stroke="#808080" stroke-width="0.6"/>
<ellipse cx="50.66" cy="321.95" rx="1.7" ry="2" fill="#aaa" stroke="#808080" stroke-width="0.6"/>
<ellipse cx="58.70" cy="309.12" rx="1.7" ry="2" fill="#aaa" stroke="#808080" stroke-width="0.6"/>
<ellipse cx="69.42" cy="304.85" rx="1.7" ry="2" fill="#aaa" stroke="#808080" stroke-width="0.6"/>
<ellipse cx="80.14" cy="297.15" rx="1.7" ry="2" fill="#aaa" stroke="#808080" stroke-width="0.6"/>
<ellipse cx="88.18" cy="291.17" rx="1.7" ry="2" fill="#aaa" stroke="#808080" stroke-width="0.6"/>
<ellipse cx="96.22" cy="284.33" rx="1.7" ry="2" fill="#aaa" stroke="#808080" stroke-width="0.6"/>
<ellipse cx="106.94" cy="269.79" rx="1.7" ry="2" fill="#aaa" stroke="#808080" stroke-width="0.6"/>
<ellipse cx="114.98" cy="261.24" rx="1.7" ry="2" fill="#aaa" stroke="#808080" stroke-width="0.6"/>
<ellipse cx="125.70" cy="252.69" rx="1.7" ry="2" fill="#aaa" stroke="#808080" stroke-width="0.6"/>
<ellipse cx="136.42" cy="241.58" rx="1.7" ry="2" fill="#aaa" stroke="#808080" stroke-width="0.6"/>
<ellipse cx="144.46" cy="234.74" rx="1.7" ry="2" fill="#aaa" stroke="#808080" stroke-width="0.6"/>
<ellipse cx="165.90" cy="226.19" rx="1.7" ry="2" fill="#aaa" stroke="#808080" stroke-width="0.6"/>
<ellipse cx="192.70" cy="203.10" rx="1.7" ry="2" fill="#aaa" stroke="#808080" stroke-width="0.6"/>
<polyline points="31.90,331.35 37.26,327.08 42.62,324.51 50.66,321.95 58.70,317.67 69.42,309.98 80.14,303.99 88.18,297.15 96.22,294.59 106.94,288.94 114.98,285.18 125.70,277.49 136.42,273.21 144.46,266.37 165.90,258.68 192.70,251.84" fill="none" stroke="#333" stroke-width="0.8"/>
<ellipse cx="31.90" cy="331.35" rx="2.0" ry="2.35" fill="#000"/>
<ellipse cx="37.26" cy="327.08" rx="2.0" ry="2.35" fill="#000"/>
<ellipse cx="42.62" cy="324.51" rx="2.0" ry="2.35" fill="#000"/>
<ellipse cx="50.66" cy="321.95" rx="2.0" ry="2.35" fill="#000"/>
<ellipse cx="58.70" cy="317.67" rx="2.0" ry="2.35" fill="#000"/>
<ellipse cx="69.42" cy="309.98" rx="2.0" ry="2.35" fill="#000"/>
<ellipse cx="80.14" cy="303.99" rx="2.0" ry="2.35" fill="#000"/>
<ellipse cx="88.18" cy="297.15" rx="2.0" ry="2.35" fill="#000"/>
<ellipse cx="96.22" cy="294.59" rx="2.0" ry="2.35" fill="#000"/>
<ellipse cx="106.94" cy="288.94" rx="2.0" ry="2.35" fill="#000"/>
<ellipse cx="114.98" cy="285.18" rx="2.0" ry="2.35" fill="#000"/>
<ellipse cx="125.70" cy="277.49" rx="2.0" ry="2.35" fill="#000"/>
<ellipse cx="136.42" cy="273.21" rx="2.0" ry="2.35" fill="#000"/>
<ellipse cx="144.46" cy="266.37" rx="2.0" ry="2.35" fill="#000"/>
<ellipse cx="165.90" cy="258.68" rx="2.0" ry="2.35" fill="#000"/>
<ellipse cx="192.70" cy="251.84" rx="2.0" ry="2.35" fill="#000"/>
<polyline points="31.90,331.35 37.26,325.79 42.62,323.66 50.66,321.95 58.70,314.25 69.42,312.97 80.14,311.69 88.18,306.56 96.22,304.85 106.94,298.86 114.98,294.16 125.70,287.75 136.42,280.48 144.46,272.36 165.90,267.65 192.70,259.10" fill="none" stroke="#333" stroke-width="0.8"/>
<path d="M31.90,328.75 L34.10,333.15 L29.70,333.15 Z" fill="#000"/>
<path d="M37.26,323.19 L39.46,327.59 L35.06,327.59 Z" fill="#000"/>
<path d="M42.62,321.06 L44.82,325.46 L40.42,325.46 Z" fill="#000"/>
<path d="M50.66,319.35 L52.86,323.75 L48.46,323.75 Z" fill="#000"/>
<path d="M58.70,311.65 L60.90,316.05 L56.50,316.05 Z" fill="#000"/>
<path d="M69.42,310.37 L71.62,314.77 L67.22,314.77 Z" fill="#000"/>
<path d="M80.14,309.08 L82.34,313.49 L77.94,313.49 Z" fill="#000"/>
<path d="M88.18,303.95 L90.38,308.36 L85.98,308.36 Z" fill="#000"/>
<path d="M96.22,302.25 L98.42,306.65 L94.02,306.65 Z" fill="#000"/>
<path d="M106.94,296.26 L109.14,300.66 L104.74,300.66 Z" fill="#000"/>
<path d="M114.98,291.56 L117.18,295.96 L112.78,295.96 Z" fill="#000"/>
<path d="M125.70,285.14 L127.90,289.55 L123.50,289.55 Z" fill="#000"/>
<path d="M136.42,277.88 L138.62,282.28 L134.22,282.28 Z" fill="#000"/>
<path d="M144.46,269.75 L146.66,274.16 L142.26,274.16 Z" fill="#000"/>
<path d="M165.90,265.05 L168.10,269.45 L163.70,269.45 Z" fill="#000"/>
<path d="M192.70,256.50 L194.90,260.90 L190.50,260.90 Z" fill="#000"/>
<text x="1" y="9.7" class="sb" font-size="11.8">A</text>
<text x="300.9" y="8.5" class="sb" font-size="11.8">B</text>
<text x="-0.4" y="172.7" class="sb" font-size="12.2">C</text>
</svg>
</body></html>
